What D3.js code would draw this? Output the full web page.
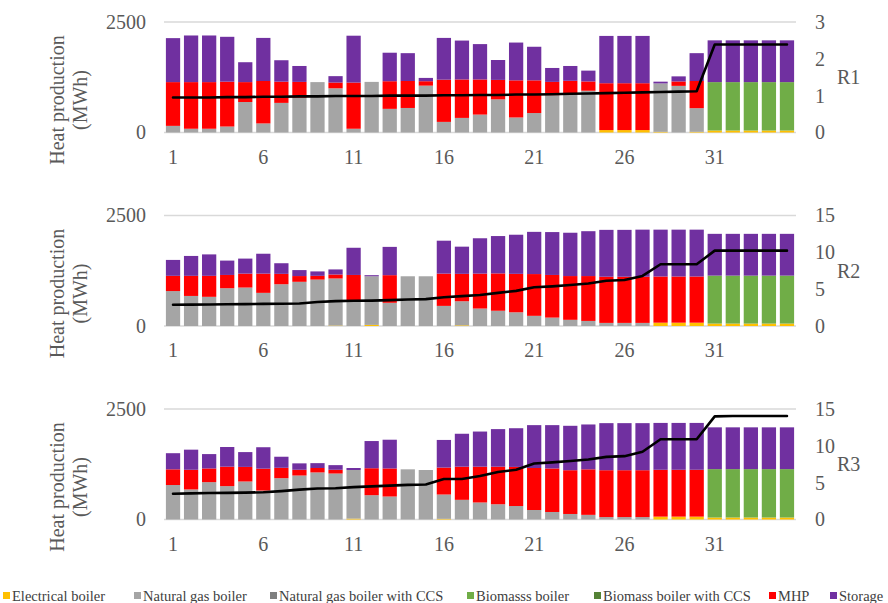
<!DOCTYPE html>
<html>
<head>
<meta charset="utf-8">
<script src="https://cdn.jsdelivr.net/npm/d3@7"></script>
<style>
  html, body { margin: 0; padding: 0; background: #fff; }
  svg { display: block; font-family: "Liberation Serif", "Times New Roman", serif; }
</style>
</head>
<body>
<svg id="chart" width="888" height="603"></svg>
<script>
// Hours 1..35 on the x axis
const categories = d3.range(1, 36);
const xTickLabels = [1, 6, 11, 16, 21, 26, 31];

const seriesNames = ["Electrical boiler", "Natural gas boiler", "Natural gas boiler with CCS",
  "Biomasss boiler", "Biomass boiler with CCS", "MHP", "Storage"];
const seriesColors = ["#FFC000", "#A5A5A5", "#7F7F7F", "#70AD47", "#548235", "#FF0000", "#7030A0"];

// ---- R1 (MWh per technology, right axis: line) ----
const r1Electrical = [0,0,0,0,0,0,0,0,0,0,0,0,0,0,0,0,0,0,0,0,0,0,0,0,55,55,55,15,0,15,45,45,45,45,45];
const r1Gas = [150,85,85,135,690,205,670,785,1140,1000,85,1145,535,555,1060,240,330,405,750,340,440,845,860,945,0,0,0,1095,1055,535,0,0,0,0,0];
const r1GasCCS = [0,0,0,0,0,0,0,0,0,0,0,0,0,0,0,0,0,0,0,0,0,0,0,0,0,0,0,0,0,0,0,0,0,0,0];
const r1Biomass = [0,0,0,0,0,0,0,0,0,0,0,0,0,0,0,0,0,0,0,0,0,0,0,0,0,0,0,0,0,0,1095,1095,1095,1095,1095];
const r1BiomassCCS = [0,0,0,0,0,0,0,0,0,0,0,0,0,0,0,0,0,0,0,0,0,0,0,0,0,0,0,0,0,0,0,0,0,0,0];
const r1MHP = [990,1055,1055,1015,450,960,480,360,0,130,1045,0,625,610,100,955,870,795,440,840,740,300,310,210,1060,1060,1060,0,100,615,0,0,0,0,0];
const r1Storage = [995,1055,1055,1015,450,975,485,360,0,145,1060,0,645,630,75,945,880,800,450,855,760,315,335,245,1070,1070,1070,40,115,630,945,945,945,945,945];
const r1Line = [0.95,0.95,0.95,0.96,0.96,0.97,0.97,0.98,0.98,0.99,0.99,0.99,1.0,1.0,1.0,1.01,1.01,1.02,1.02,1.03,1.03,1.04,1.05,1.06,1.07,1.08,1.09,1.10,1.11,1.12,2.39,2.39,2.39,2.39,2.39];

// ---- R2 ----
const r2Electrical = [0,0,0,0,0,0,0,0,0,10,0,25,0,0,0,0,15,0,0,0,0,0,0,0,0,0,0,75,75,75,55,55,55,55,55];
const r2Gas = [790,680,660,855,870,750,945,1000,1050,1065,550,1100,525,1125,1125,455,545,395,345,310,230,190,140,115,70,70,70,0,0,0,0,0,0,0,0];
const r2GasCCS = [0,0,0,0,0,0,0,0,0,0,0,0,0,0,0,0,0,0,0,0,0,0,0,0,0,0,0,0,0,0,0,0,0,0,0];
const r2Biomass = [0,0,0,0,0,0,0,0,0,0,0,0,0,0,0,0,0,0,0,0,0,0,0,0,0,0,0,0,0,0,1085,1085,1085,1085,1085];
const r2BiomassCCS = [0,0,0,0,0,0,0,0,0,0,0,0,0,0,0,0,0,0,0,0,0,0,0,0,0,0,0,0,0,0,0,0,0,0,0];
const r2MHP = [345,455,475,300,315,435,235,130,85,90,605,0,625,0,0,730,620,790,845,870,945,965,990,1015,1045,1045,1045,1045,1045,1045,0,0,0,0,0];
const r2Storage = [360,450,485,325,340,450,240,135,100,115,615,25,640,0,0,745,615,800,845,885,955,970,980,1015,1060,1060,1065,1060,1060,1060,945,945,945,945,945];
const r2Line = [2.88,2.90,2.92,2.95,2.97,3.00,3.02,3.06,3.25,3.38,3.42,3.45,3.51,3.60,3.65,3.90,4.05,4.20,4.50,4.77,5.25,5.38,5.56,5.78,6.14,6.25,6.80,8.38,8.38,8.38,10.23,10.23,10.23,10.23,10.23];

// ---- R3 ----
const r3Electrical = [0,0,0,0,0,0,0,0,0,0,20,0,0,0,0,15,0,0,0,0,0,0,0,0,0,0,0,65,65,65,45,45,45,45,45];
const r3Gas = [780,680,845,755,860,655,935,995,1065,1040,1100,550,520,1135,1120,550,445,385,345,305,215,170,125,105,55,55,55,0,0,0,0,0,0,0,0];
const r3GasCCS = [0,0,0,0,0,0,0,0,0,0,0,0,0,0,0,0,0,0,0,0,0,0,0,0,0,0,0,0,0,0,0,0,0,0,0];
const r3Biomass = [0,0,0,0,0,0,0,0,0,0,0,0,0,0,0,0,0,0,0,0,0,0,0,0,0,0,0,0,0,0,1095,1095,1095,1095,1095];
const r3BiomassCCS = [0,0,0,0,0,0,0,0,0,0,0,0,0,0,0,0,0,0,0,0,0,0,0,0,0,0,0,0,0,0,0,0,0,0,0];
const r3MHP = [355,445,310,440,330,495,235,130,100,85,0,610,635,0,0,610,750,810,850,885,950,985,990,1030,1060,1060,1060,1060,1060,1060,0,0,0,0,0];
const r3Storage = [365,455,325,445,335,485,250,145,110,105,45,615,650,0,0,625,745,795,850,875,970,980,1005,1015,1065,1065,1065,1060,1060,1060,945,945,945,945,945];
const r3Line = [3.50,3.55,3.60,3.62,3.65,3.70,3.85,4.05,4.20,4.25,4.40,4.50,4.60,4.70,4.75,5.50,5.50,5.90,6.45,6.75,7.60,7.75,7.95,8.15,8.50,8.60,9.20,10.90,10.90,10.90,14.00,14.05,14.05,14.05,14.05];

const leftTicks = [0, 2500];
const panels = [
  { name: "R1", top: 22, series: [r1Electrical, r1Gas, r1GasCCS, r1Biomass, r1BiomassCCS, r1MHP, r1Storage], line: r1Line, rightMax: 3, rightTicks: [0, 1, 2, 3] },
  { name: "R2", top: 215.5, series: [r2Electrical, r2Gas, r2GasCCS, r2Biomass, r2BiomassCCS, r2MHP, r2Storage], line: r2Line, rightMax: 15, rightTicks: [0, 5, 10, 15] },
  { name: "R3", top: 409, series: [r3Electrical, r3Gas, r3GasCCS, r3Biomass, r3BiomassCCS, r3MHP, r3Storage], line: r3Line, rightMax: 15, rightTicks: [0, 5, 10, 15] }
];

const svg = d3.select("#chart");
const plotLeft = 164, plotRight = 796, plotH = 110.5;
const textColor = "#595959";
const gridColor = "#D9D9D9";

const x = d3.scaleBand().domain(categories).range([plotLeft, plotRight]).paddingInner(0.21).paddingOuter(0.105);

panels.forEach(p => {
  const g = svg.append("g");
  const bottom = p.top + plotH;
  const y = d3.scaleLinear().domain([0, 2500]).range([bottom, p.top]);
  const yR = d3.scaleLinear().domain([0, p.rightMax]).range([bottom, p.top]);

  // gridlines at the left-axis ticks
  g.selectAll("line.grid").data(leftTicks).join("line")
    .attr("x1", plotLeft).attr("x2", plotRight)
    .attr("y1", d => y(d)).attr("y2", d => y(d))
    .attr("stroke", gridColor).attr("stroke-width", 1.5);

  // stacked bars
  const rows = categories.map((c, i) => {
    const r = { cat: c };
    seriesNames.forEach((s, k) => r[s] = p.series[k][i]);
    return r;
  });
  const stacked = d3.stack().keys(seriesNames)(rows);
  stacked.forEach((layer, k) => {
    g.append("g").attr("fill", seriesColors[k])
      .selectAll("rect").data(layer.filter(d => d[1] - d[0] > 0)).join("rect")
      .attr("x", d => x(d.data.cat))
      .attr("width", x.bandwidth())
      .attr("y", d => y(d[1]))
      .attr("height", d => y(d[0]) - y(d[1]));
  });

  // line on the secondary axis
  const line = d3.line().x((d, i) => x(categories[i]) + x.bandwidth() / 2).y(d => yR(d));
  g.append("path").datum(p.line).attr("d", line)
    .attr("fill", "none").attr("stroke", "#000").attr("stroke-width", 2.6)
    .attr("stroke-linejoin", "round").attr("stroke-linecap", "round");

  // left axis
  const la = g.append("g").attr("transform", `translate(${plotLeft - 18},0)`)
    .call(d3.axisLeft(y).tickValues(leftTicks).tickSize(0).tickPadding(0).tickFormat(d3.format("d")));
  la.select(".domain").remove();
  la.selectAll("text").attr("fill", textColor).style("font-size", "20px").style("font-family", "Liberation Serif");

  // right axis
  const ra = g.append("g").attr("transform", `translate(${plotRight + 19},0)`)
    .call(d3.axisRight(yR).tickValues(p.rightTicks).tickSize(0).tickPadding(0).tickFormat(d3.format("d")));
  ra.select(".domain").remove();
  ra.selectAll("text").attr("fill", textColor).style("font-size", "20px").style("font-family", "Liberation Serif");

  // bottom axis labels
  const xa = g.append("g").attr("transform", `translate(0,${bottom + 17})`)
    .call(d3.axisBottom(x).tickValues(xTickLabels).tickSize(0).tickPadding(0));
  xa.select(".domain").remove();
  xa.selectAll("text").attr("fill", textColor).style("font-size", "20px").style("font-family", "Liberation Serif");

  // secondary axis title
  g.append("text").attr("x", 837).attr("y", p.top + 55).attr("dy", "0.35em")
    .attr("fill", textColor).style("font-size", "20px").text(p.name);

  // primary axis title
  const cy = p.top + 78;
  const t = g.append("text").attr("transform", `translate(0,${cy}) rotate(-90)`)
    .attr("text-anchor", "middle").attr("fill", textColor).style("font-size", "20px");
  t.append("tspan").attr("x", 0).attr("y", 64).text("Heat production");
  t.append("tspan").attr("x", 0).attr("y", 87).text("(MWh)");
});

// legend
const legendX = [3, 134, 270, 467, 594, 769, 830];
const lg = svg.append("g").attr("transform", "translate(0,596)");
seriesNames.forEach((s, k) => {
  const it = lg.append("g").attr("transform", `translate(${legendX[k]},0)`);
  it.append("rect").attr("x", 0).attr("y", -4).attr("width", 7).attr("height", 7).attr("fill", seriesColors[k]);
  it.append("text").attr("x", 9).attr("y", 0).attr("dy", "0.35em")
    .attr("fill", "#404040").style("font-size", "14.5px").text(s);
});
</script>
</body>
</html>
